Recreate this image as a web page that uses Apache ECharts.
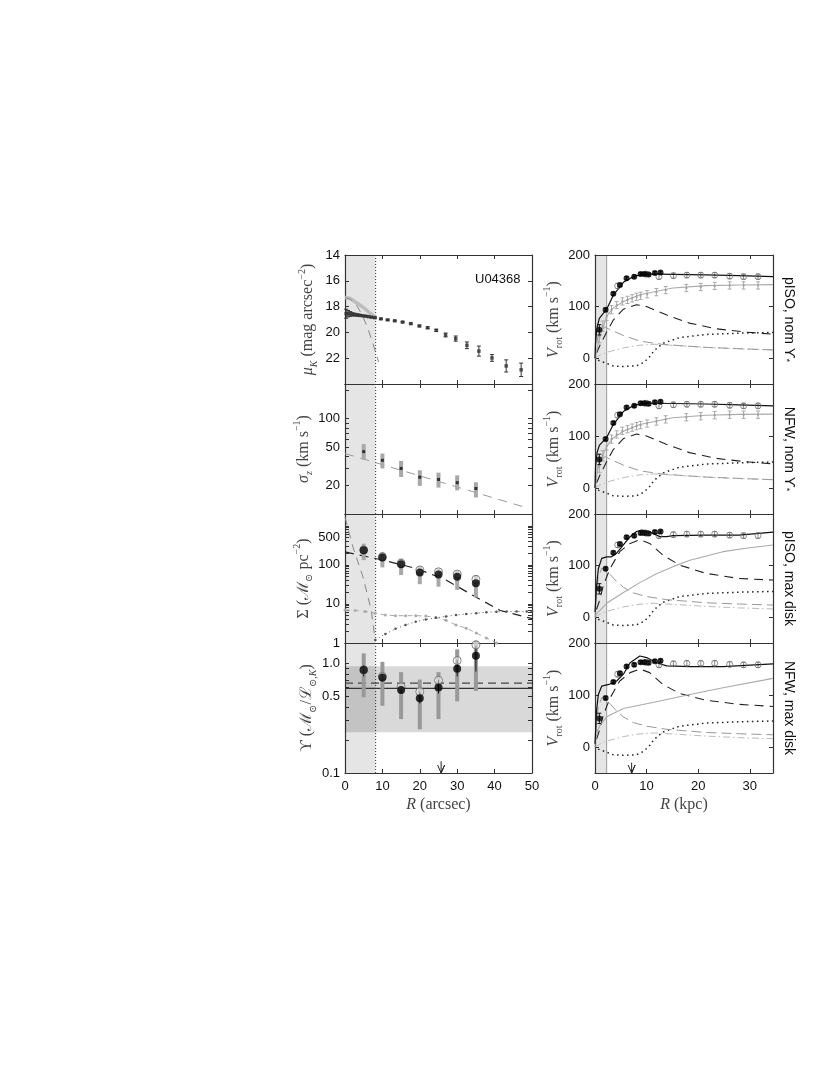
<!DOCTYPE html>
<html>
<head>
<meta charset="utf-8">
<script src="https://cdn.jsdelivr.net/npm/echarts@6/dist/echarts.min.js"></script>
<style>
  html, body { margin: 0; background: #fff; }
  #chart { width: 830px; height: 1075px; }
</style>
</head>
<body>
<div id="chart"></div>
<script>
// ---------- left column: surface brightness (arcsec, mag) ----------
const muR = [0.3, 0.8, 1.4, 2.0, 2.6, 3.3, 4.0, 4.7, 5.5, 6.3, 7.1, 8.0,
  9.6, 11.4, 13.3, 15.4, 17.6, 19.9, 22.1, 24.4, 26.9, 29.6, 32.6, 35.8, 39.3, 43.1, 47.1];
const muV = [18.55, 18.55, 18.57, 18.6, 18.62, 18.65, 18.68, 18.71, 18.74, 18.78, 18.82, 18.86,
  18.95, 19.03, 19.1, 19.2, 19.32, 19.5, 19.64, 19.84, 20.2, 20.48, 21.0, 21.45, 21.98, 22.6, 22.9];
const muErr = [0.35, 0.25, 0.18, 0.12, 0.1, 0.08, 0.06, 0.05, 0.05, 0.04, 0.04, 0.04,
  0.04, 0.04, 0.04, 0.05, 0.05, 0.06, 0.07, 0.08, 0.15, 0.2, 0.26, 0.39, 0.26, 0.47, 0.52];
const muProfR = [0, 1.3, 3.1, 4.9, 6.7, 8.2];
const muProfV = [17.3, 17.35, 17.7, 18.07, 18.5, 18.85];
const muBulR = [0, 1.5, 3.0, 4.5, 6.0, 7.5, 9.0];
const muBulV = [17.3, 17.45, 17.85, 18.6, 19.6, 20.9, 22.3];

// ---------- stellar velocity dispersion ----------
const sigR = [5, 10, 15, 20, 25, 30, 35];
const sigV = [45, 36.5, 30, 24.3, 23, 21.3, 18.5];
const sigLo = [37, 30, 24.4, 19.7, 18.9, 17.7, 14.9];
const sigHi = [54, 43, 36, 28.7, 27.1, 25.4, 21.5];
const sigFitR = [0, 48];
const sigFitV = [43, 11.8];

// ---------- mass surface density ----------
const sdR = [5, 10, 15, 20, 25, 30, 35];
const sdV = [236, 154, 104, 64, 57, 49.4, 33.6];
const sdOpen = [240, 160, 110, 74, 66.5, 58, 42.6];
const sdLo = [132, 86, 55, 32, 27.6, 22.8, 14.8];
const sdHi = [348, 214, 145, 93, 81, 70.5, 55];
const sdDiskR = [0, 10, 19, 27, 34, 41.5, 50];
const sdDiskV = [214, 133, 81, 41, 17, 6.8, 4.2];
const sdBulR = [0, 2.1, 4.8, 7.0, 8.1];
const sdBulV = [1660, 288, 49, 7, 1.1];
const sdGasR = [0, 2.7, 5.4, 8.1, 10.8, 13.5, 16.2, 18.9, 21.6, 24.3, 27, 29.7, 32.4, 35.1, 37.8, 40.5];
const sdGasV = [7, 6.8, 6.4, 5.8, 5.2, 5.0, 5.0, 5.0, 4.9, 4.5, 3.8, 2.9, 2.4, 1.8, 1.35, 1.0];
const sdDotR = [8.1, 10.8, 13.5, 16.2, 18.9, 21.6, 24.3, 27, 29.7, 32.4, 35.1, 37.8, 40.5, 43.2, 45.9, 48.6, 50];
const sdDotV = [1.2, 1.7, 2.3, 2.9, 3.5, 4.0, 4.4, 4.8, 5.2, 5.5, 5.8, 6.1, 6.3, 6.4, 6.4, 6.4, 6.4];

// ---------- mass-to-light ratio ----------
const upsR = [5, 10, 15, 20, 25, 30, 35];
const upsV = [0.87, 0.74, 0.57, 0.48, 0.60, 0.89, 1.17];
const upsOpen = [0.87, 0.76, 0.61, 0.55, 0.70, 1.06, 1.47];
const upsLo = [0.49, 0.41, 0.31, 0.25, 0.31, 0.45, 0.56];
const upsHi = [1.23, 1.03, 0.83, 0.71, 0.83, 1.34, 1.61];
const upsErrLo = [0.76, 0.68, 0.53, 0.43, 0.53, 0.76, 0.84];
const upsErrHi = [0.96, 0.80, 0.61, 0.55, 0.70, 1.07, 1.42];
const upsSolid = 0.59;
const upsDashed = 0.66;
const upsBand = [0.235, 0.94];
const shadeArcsec = 8.2;
const arrowArcsec = 25.7;

// ---------- right column: rotation curves (kpc, km/s) ----------
const rotR = [0.84, 2.06, 3.55, 4.84, 6.12, 7.6, 8.84, 9.55, 10.4, 11.6, 12.7];
const rotV = [55, 94, 125, 142, 155, 158, 163, 163, 162, 165, 166];
const rotE = [10, 3, 3, 3, 3, 3, 3, 3, 3, 3, 3];
const recR = [4.4, 9.9, 12.4, 15.2, 17.8, 20.5, 23.2, 26.1, 28.8, 31.6];
const recV = [140, 163, 158, 160, 161, 161, 161, 159, 158, 158];
const recE = [5, 5, 5, 5, 5, 5, 5, 5, 5, 5];
const resR = [0.84, 1.5, 2.26, 3.2, 4.2, 5.3, 6.3, 7.2, 8.06, 8.84, 10.1, 11.9, 13.7, 17.7, 20.5, 23.2, 26.1, 28.8, 31.6];
const resV = [42, 62, 81, 94, 103, 110, 113, 116, 119, 121, 124, 128, 132, 136, 138, 140, 141, 141, 141];
const resE = [12, 10, 8, 8, 7, 7, 7, 7, 7, 7, 7, 7, 7, 7, 7, 7, 7, 7, 7];

const tot1R = [0, 0.1, 0.4, 0.84, 1.6, 2.26, 3.55, 5.5, 7.4, 9.3, 11.9, 15.1, 21.5, 27.9, 34.5];
const tot1V = [0, 30, 60, 77, 87, 95, 122, 147, 158, 163, 163, 162.5, 161.5, 160, 158];
const tot2V = [0, 40, 68, 82, 90, 97, 122, 147, 158, 163, 163, 162.5, 161.5, 160, 158];
const halo1R = [0, 0.97, 2.26, 3.5, 5.5, 8.7, 15.1, 21.5, 28, 34.5];
const halo1V = [0, 43, 81, 97, 110, 123, 136, 140.6, 142, 142.5];
const halo2R = [0, 0.5, 1, 2.26, 3.5, 5.5, 8.7, 15.1, 21.5, 28, 34.5];
const halo2V = [0, 35, 52, 80, 96, 109, 122, 135, 140, 141.5, 142];
const diskNomR = [0.3, 0.97, 2.26, 3.55, 5.5, 8.06, 10, 13.8, 18.3, 23.5, 29.3, 34.5];
const diskNomV = [10, 25, 51, 74, 95, 103.7, 100, 84, 68, 57, 50.4, 46.5];
const bulNomR = [0, 0.5, 1.2, 2.0, 3.0, 5.5, 8.7, 13, 17, 21.5, 28, 34.5];
const bulNomV = [0, 40, 56, 60, 55, 44, 33, 27, 24, 21, 18.5, 16];
const gasR = [0, 1, 2.5, 5.5, 8.5, 11.5, 15, 21.5, 28, 34.5];
const gasV = [0, 6, 12, 20, 25, 27, 25, 21, 18, 16];
const negR = [0.6, 2.26, 3.55, 5.5, 8, 9.5, 10.6, 11.5, 13.2, 16.4, 21.5, 28, 34.5];
const negV = [-4, -10, -15, -16, -15, -8, 3, 15, 29, 40, 46, 48.5, 50];

const tot3R = [0, 0.3, 0.65, 1.3, 2.26, 3.2, 4.2, 5.5, 6.8, 8.06, 9.0, 10, 11.3, 12.6, 13.9, 15.1, 21.5, 27.9, 34.5];
const tot3V = [10, 60, 94, 114, 117, 117, 124, 140, 156, 166, 169, 168, 162, 156, 156, 158, 159, 159, 165];
const tot4R = [0, 0.3, 0.65, 1.3, 2.9, 4.2, 5.5, 6.8, 8.7, 10, 11.9, 13.9, 18.4, 24.8, 34.5];
const tot4V = [6, 70, 101, 117, 121, 127, 140, 162, 175, 172, 162, 156, 154.5, 154.5, 160];
const halo3R = [0, 2.26, 5.5, 8.7, 11.9, 15.1, 18.4, 24.8, 29.6, 34.5];
const halo3V = [3, 27, 48, 67, 84, 98, 110.5, 127, 134, 140];
const halo4R = [0, 0.5, 1, 2.26, 5.5, 11.9, 18.4, 24.8, 34.5];
const halo4V = [10, 32, 42, 58, 74, 87, 101, 114, 132];
const diskMaxR = [0.3, 0.8, 1.6, 2.9, 4.8, 6.8, 8.7, 10.6, 13.2, 16.4, 21.5, 27.9, 34.5];
const diskMax3V = [15, 30, 61, 94, 127, 143, 150, 143, 120, 101, 85, 75, 72];
const diskMax4V = [15, 30, 61, 94, 127, 143, 150, 143, 120, 103, 90, 82, 78];
const bulMaxR = [0, 0.3, 0.6, 1.3, 2.0, 3.0, 4.2, 5.5, 7.4, 10, 13.9, 21.5, 28, 34.5];
const bulMaxV = [0, 50, 75, 95, 93, 82, 69, 58, 47, 40, 34, 28, 25.5, 23.5];
const shadeKpc = 2.26;
const arrowKpc = 7.1;

// ---------- tick labels ----------
const xTicksL = [0, 10, 20, 30, 40, 50];
const xTicksR = [0, 10, 20, 30];
const muTicks = [14, 16, 18, 20, 22, 24];
const muLabels = [14, 16, 18, 20, 22];
const sigTicks = [10, 20, 30, 40, 50, 60, 70, 80, 90, 100, 200];
const sigLabels = [20, 50, 100];
const sdTicks = [1, 2, 3, 4, 5, 6, 7, 8, 9, 10, 20, 30, 40, 50, 60, 70, 80, 90,
  100, 200, 300, 400, 500, 600, 700, 800, 900, 1000, 2000];
const sdLabels = [1, 10, 100, 500];
const upsTicks = [0.1, 0.2, 0.3, 0.4, 0.5, 0.6, 0.7, 0.8, 0.9, 1];
const upsLabels = [0.1, 0.5, 1];
const vTicks = [0, 100, 200];
const panelNames = ['pISO, nom ϒ{s|*}', 'NFW, nom ϒ{s|*}', 'pISO, max disk', 'NFW, max disk'];

const SANS = '"Liberation Sans", Arial, sans-serif';
const SERIF = '"Liberation Serif", "DejaVu Serif", serif';
const nameColor = '#444';
const nameRich = {
  it: { fontFamily: SERIF, fontStyle: 'italic', fontSize: 16, lineHeight: 22, color: nameColor },
  rm: { fontFamily: SERIF, fontSize: 16, lineHeight: 22, color: nameColor },
  sub: { fontFamily: SERIF, fontSize: 10, lineHeight: 10, verticalAlign: 'bottom', color: nameColor },
  subi: { fontFamily: SERIF, fontStyle: 'italic', fontSize: 10, lineHeight: 10, verticalAlign: 'bottom', color: nameColor },
  sup: { fontFamily: SERIF, fontSize: 10, lineHeight: 10, verticalAlign: 'top', color: nameColor }
};

const rowTop = [255, 384, 514, 643];
const rowH = [129, 130, 129, 130];
const grids = [], xAxes = [], yAxes = [], series = [];

function addPanel(col, row, o) {
  const gi = grids.length;
  grids.push({ left: col ? 595 : 345, top: rowTop[row], width: col ? 178 : 187, height: rowH[row] });
  const xt = col ? xTicksR : xTicksL;
  const tick = { inside: true, length: 4, lineStyle: { color: '#333' } };
  const axLine = { show: true, onZero: false, lineStyle: { color: '#333', width: 1.2 } };
  ['bottom', 'top'].forEach(pos => {
    const lab = row === 3 && pos === 'bottom';
    xAxes.push({
      type: 'value', gridIndex: gi, position: pos, min: 0, max: col ? 34.5 : 50,
      axisLine: axLine, splitLine: { show: false },
      axisTick: Object.assign({ customValues: xt }, tick),
      axisLabel: { show: lab, customValues: xt, fontFamily: SANS, fontSize: 13, color: '#111', margin: 7 },
      name: lab ? (col ? '{it|R}{rm| (kpc)}' : '{it|R}{rm| (arcsec)}') : '',
      nameLocation: 'middle', nameGap: 21, nameTextStyle: { rich: nameRich }
    });
  });
  ['left', 'right'].forEach(pos => {
    const left = pos === 'left';
    yAxes.push({
      type: o.type, gridIndex: gi, position: pos, min: o.min, max: o.max, inverse: !!o.inverse,
      axisLine: axLine, splitLine: { show: false },
      axisTick: Object.assign({ customValues: o.ticks }, tick),
      axisLabel: { show: left, customValues: o.labels, formatter: o.fmt, fontFamily: SANS, fontSize: 13, color: '#111', margin: 5 },
      name: left ? o.name : (o.rname || ''),
      nameLocation: 'middle', nameGap: left ? o.gap : 9, nameRotate: left ? 90 : -90,
      nameTextStyle: left ? { rich: nameRich }
        : { fontFamily: SANS, fontSize: 14, color: '#111',
            rich: { s: { fontFamily: SANS, fontSize: 9, lineHeight: 9, verticalAlign: 'bottom', color: '#111' } } }
    });
  });
  return gi;
}

const ax = gi => ({ xAxisIndex: 2 * gi, yAxisIndex: 2 * gi });
const pairs = (xs, ys) => xs.map((x, i) => [x, ys[i]]);

function curve(gi, xs, ys, color, width, type, z) {
  series.push(Object.assign({
    type: 'line', data: pairs(xs, ys), symbol: 'none', silent: true, animation: false,
    lineStyle: { color: color, width: width, type: type || 'solid' }, z: z || 3
  }, ax(gi)));
}
function markedCurve(gi, xs, ys, color, type, size) {
  series.push(Object.assign({
    type: 'line', data: pairs(xs, ys), symbol: 'circle', symbolSize: size, showSymbol: true,
    itemStyle: { color: color }, silent: true, animation: false,
    lineStyle: { color: color, width: 1, type: type }, z: 3
  }, ax(gi)));
}
function dots(gi, xs, ys, symbol, size, style, z) {
  series.push(Object.assign({
    type: 'scatter', data: pairs(xs, ys), symbol: symbol, symbolSize: size,
    itemStyle: style, silent: true, animation: false, z: z || 6
  }, ax(gi)));
}
function bars(gi, xs, lo, hi, color, width, cap, z) {
  series.push(Object.assign({
    type: 'custom', data: xs.map((x, i) => [x, lo[i], hi[i]]), encode: { x: 0, y: [1, 2] },
    silent: true, animation: false, z: z || 4,
    renderItem: (params, api) => {
      const a = api.coord([api.value(0), api.value(1)]);
      const b = api.coord([api.value(0), api.value(2)]);
      const st = { stroke: color, lineWidth: width };
      const kids = [{ type: 'line', shape: { x1: a[0], y1: a[1], x2: b[0], y2: b[1] }, style: st }];
      if (cap) {
        kids.push({ type: 'line', shape: { x1: a[0] - cap, y1: a[1], x2: a[0] + cap, y2: a[1] }, style: st });
        kids.push({ type: 'line', shape: { x1: b[0] - cap, y1: b[1], x2: b[0] + cap, y2: b[1] }, style: st });
      }
      return { type: 'group', children: kids };
    }
  }, ax(gi)));
}
function shade(gi, x1, yRef, edge) {
  series.push(Object.assign({
    type: 'custom', data: [[0, x1, yRef]], encode: { x: [0, 1], y: 2 }, silent: true, animation: false, z: 0,
    renderItem: (params, api) => {
      const cs = params.coordSys;
      const p0 = api.coord([api.value(0), api.value(2)])[0];
      const p1 = api.coord([api.value(1), api.value(2)])[0];
      return { type: 'group', children: [
        { type: 'rect', shape: { x: p0, y: cs.y, width: p1 - p0, height: cs.height }, style: { fill: 'rgba(0,0,0,0.1)' } },
        { type: 'line', shape: { x1: p1, y1: cs.y, x2: p1, y2: cs.y + cs.height }, style: edge }
      ] };
    }
  }, ax(gi)));
}
function band(gi, xRef, y0, y1) {
  series.push(Object.assign({
    type: 'custom', data: [[xRef, y0, y1]], encode: { x: 0, y: [1, 2] }, silent: true, animation: false, z: 1,
    renderItem: (params, api) => {
      const cs = params.coordSys;
      const a = api.coord([api.value(0), api.value(1)])[1];
      const b = api.coord([api.value(0), api.value(2)])[1];
      return { type: 'rect', shape: { x: cs.x, y: Math.min(a, b), width: cs.width, height: Math.abs(a - b) },
        style: { fill: 'rgba(0,0,0,0.15)' } };
    }
  }, ax(gi)));
}
function arrow(gi, x, y0, y1) {
  series.push(Object.assign({
    type: 'custom', data: [[x, y0, y1]], encode: { x: 0, y: [1, 2] }, silent: true, animation: false, z: 7,
    renderItem: (params, api) => {
      const a = api.coord([api.value(0), api.value(1)]);
      const b = api.coord([api.value(0), api.value(2)]);
      return { type: 'polyline', shape: { points: [[b[0] - 3.5, b[1] - 8], [b[0], b[1]], [b[0] + 3.5, b[1] - 8], [b[0], b[1]], a] },
        style: { stroke: '#222', lineWidth: 1, fill: null } };
    }
  }, ax(gi)));
}

const dottedEdge = { stroke: '#333', lineWidth: 1, lineDash: [1, 2] };
const greyEdge = { stroke: '#999', lineWidth: 1 };
const fmtInt = v => String(Math.round(v));

// ---- left 1: surface brightness ----
const L1 = addPanel(0, 0, { type: 'value', min: 14, max: 24, inverse: true, ticks: muTicks, labels: muLabels,
  name: '{it|μ}{subi|K}{rm| (mag arcsec}{sup|−2}{rm|)}', gap: 26 });
shade(L1, shadeArcsec, 20, dottedEdge);
curve(L1, muProfR, muProfV, '#bdbdbd', 3.5, 'solid', 2);
curve(L1, muBulR, muBulV, '#888', 1, [8, 6], 3);
bars(L1, muR, muV.map((v, i) => v - muErr[i]), muV.map((v, i) => v + muErr[i]), '#333', 1, 2, 4);
dots(L1, muR, muV, 'rect', 3.5, { color: '#333' }, 5);

// ---- left 2: velocity dispersion ----
const L2 = addPanel(0, 1, { type: 'log', min: 10, max: 230, ticks: sigTicks, labels: sigLabels, fmt: fmtInt,
  name: '{it|σ}{subi|z}{rm| (km s}{sup|−1}{rm|)}', gap: 26 });
shade(L2, shadeArcsec, 20, dottedEdge);
curve(L2, sigFitR, sigFitV, '#999', 1, [9, 7], 3);
bars(L2, sigR, sigLo, sigHi, '#a8a8a8', 4, 0, 4);
dots(L2, sigR, sigV, 'rect', 3, { color: '#111' }, 6);

// ---- left 3: mass surface density ----
const L3 = addPanel(0, 2, { type: 'log', min: 1, max: 2000, ticks: sdTicks, labels: sdLabels, fmt: fmtInt,
  name: '{rm|Σ (ℳ}{sub|⊙}{rm| pc}{sup|−2}{rm|)}', gap: 26 });
shade(L3, shadeArcsec, 10, dottedEdge);
curve(L3, sdBulR, sdBulV, '#888', 1, [8, 6], 3);
markedCurve(L3, sdGasR, sdGasV, '#aaa', [5, 4], 3);
markedCurve(L3, sdDotR, sdDotV, '#555', [1, 3], 2.5);
curve(L3, sdDiskR, sdDiskV, '#222', 1.2, [9, 6], 3);
bars(L3, sdR, sdLo, sdHi, '#a8a8a8', 4, 0, 4);
dots(L3, sdR, sdOpen, 'circle', 8, { color: 'rgba(255,255,255,0.6)', borderColor: '#666', borderWidth: 1 }, 5);
dots(L3, sdR, sdV, 'circle', 8, { color: '#000' }, 6);

// ---- left 4: mass-to-light ratio ----
const L4 = addPanel(0, 3, { type: 'log', min: 0.1, max: 1.53, ticks: upsTicks, labels: upsLabels, fmt: v => v.toFixed(1),
  name: '{rm|ϒ (ℳ}{sub|⊙}{rm|/ℒ}{sub|⊙,}{subi|K}{rm|)}', gap: 26 });
shade(L4, shadeArcsec, 0.5, dottedEdge);
band(L4, 25, upsBand[0], upsBand[1]);
curve(L4, xTicksL.filter((x, i) => i === 0 || i === xTicksL.length - 1), [upsSolid, upsSolid], '#333', 1.2, 'solid', 2);
curve(L4, xTicksL.filter((x, i) => i === 0 || i === xTicksL.length - 1), [upsDashed, upsDashed], '#444', 1.2, [8, 5], 2);
bars(L4, upsR, upsLo, upsHi, '#999', 4, 0, 3);
bars(L4, upsR, upsErrLo, upsErrHi, '#111', 1, 0, 4);
dots(L4, upsR, upsOpen, 'circle', 8, { color: 'rgba(255,255,255,0.6)', borderColor: '#666', borderWidth: 1 }, 5);
dots(L4, upsR, upsV, 'circle', 8, { color: '#000' }, 6);
arrow(L4, arrowArcsec, 0.128, 0.1);

// ---- right column: rotation curves ----
const vName = '{it|V}{sub|rot}{rm| (km s}{sup|−1}{rm|)}';
const rightSets = [
  { tR: tot1R, tV: tot1V, hR: halo1R, hV: halo1V, dR: diskNomR, dV: diskNomV, bR: bulNomR, bV: bulNomV, res: true },
  { tR: tot1R, tV: tot2V, hR: halo2R, hV: halo2V, dR: diskNomR, dV: diskNomV, bR: bulNomR, bV: bulNomV, res: true },
  { tR: tot3R, tV: tot3V, hR: halo3R, hV: halo3V, dR: diskMaxR, dV: diskMax3V, bR: bulMaxR, bV: bulMaxV, res: false },
  { tR: tot4R, tV: tot4V, hR: halo4R, hV: halo4V, dR: diskMaxR, dV: diskMax4V, bR: bulMaxR, bV: bulMaxV, res: false }
];
rightSets.forEach((d, row) => {
  const g = addPanel(1, row, { type: 'value', min: -50, max: 200, ticks: vTicks, labels: vTicks,
    name: vName, gap: 30, rname: panelNames[row] });
  shade(g, shadeKpc, 0, greyEdge);
  curve(g, negR, negV, '#222', 1.5, [1.5, 3.5], 3);
  curve(g, gasR, gasV, '#bbb', 1, [7, 3, 1.5, 3], 3);
  curve(g, d.bR, d.bV, '#999', 1, [10, 5], 3);
  curve(g, d.dR, d.dV, '#222', 1.1, [9, 6], 3);
  curve(g, d.hR, d.hV, '#aaa', 1.1, 'solid', 3);
  if (d.res) {
    bars(g, resR, resV.map((v, i) => v - resE[i]), resV.map((v, i) => v + resE[i]), '#aaa', 1, 2, 4);
    dots(g, resR, resV, 'rect', 2, { color: '#999' }, 4);
  }
  curve(g, d.tR, d.tV, '#111', 1.2, 'solid', 5);
  bars(g, recR, recV.map((v, i) => v - recE[i]), recV.map((v, i) => v + recE[i]), '#888', 1, 2, 5);
  dots(g, recR, recV, 'circle', 6, { color: 'rgba(0,0,0,0)', borderColor: '#777', borderWidth: 1 }, 6);
  bars(g, rotR, rotV.map((v, i) => v - rotE[i]), rotV.map((v, i) => v + rotE[i]), '#111', 1, 2, 6);
  dots(g, rotR, rotV, 'circle', 6, { color: '#000' }, 7);
  if (row === 3) arrow(g, arrowKpc, -30, -50);
});

const chart = echarts.init(document.getElementById('chart'), null, { renderer: 'canvas' });
chart.setOption({
  animation: false,
  backgroundColor: '#fff',
  title: { text: 'U04368', left: 470, top: 268,
    textStyle: { fontFamily: SANS, fontSize: 13, fontWeight: 'normal', color: '#111' } },
  grid: grids,
  xAxis: xAxes,
  yAxis: yAxes,
  series: series
});
</script>
</body>
</html>
